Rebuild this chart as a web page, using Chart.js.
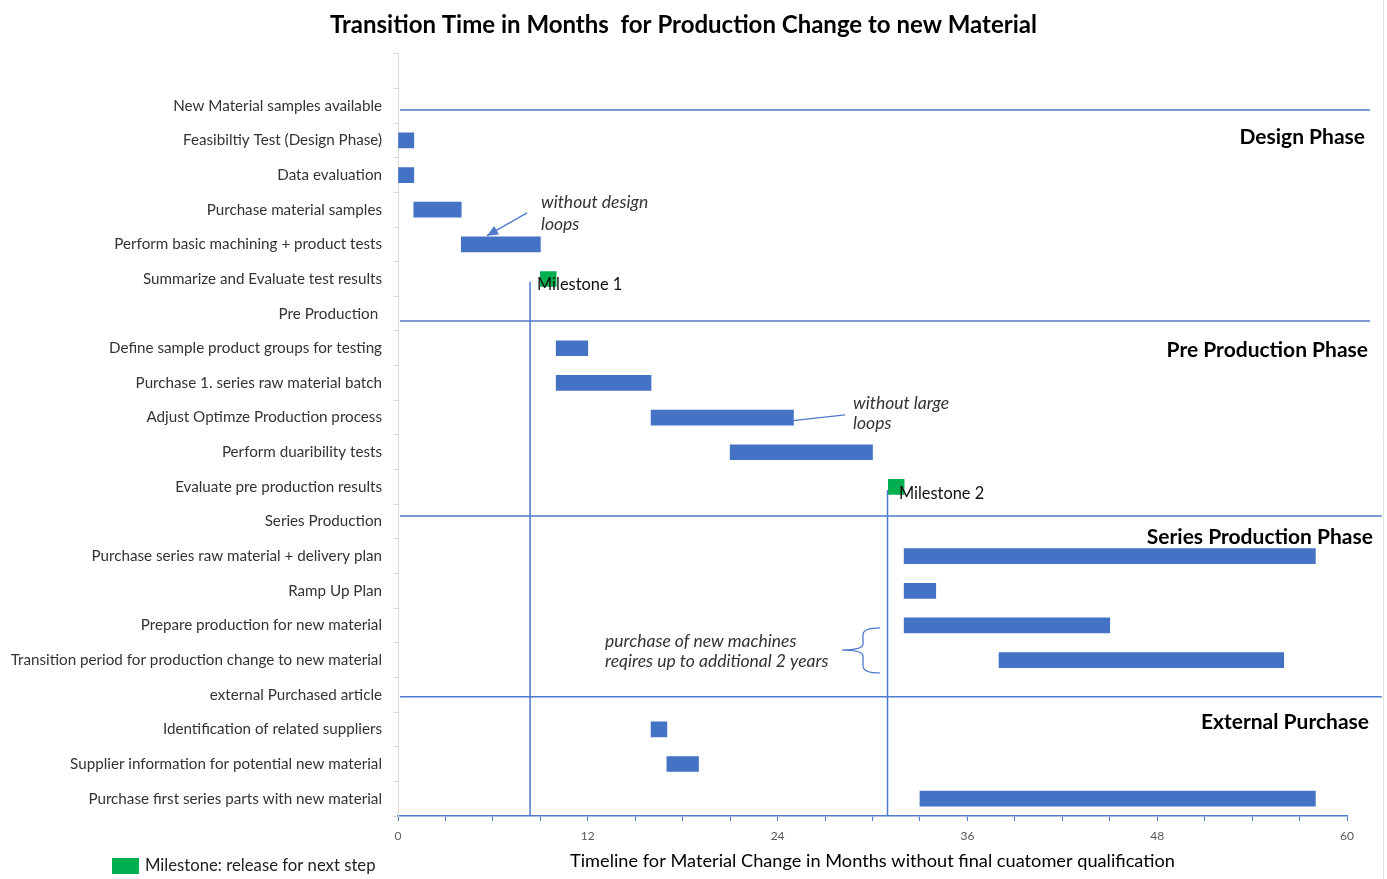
<!DOCTYPE html>
<html><head><meta charset="utf-8">
<script src="https://cdn.jsdelivr.net/npm/chart.js@4.4.1/dist/chart.umd.min.js"></script>
<style>html,body{margin:0;padding:0;background:#fff}</style>
</head><body>
<canvas id="c" width="1387" height="879"></canvas>
<script>
// ---- data ----
const tasks = [
  '',
  'New Material samples available',
  'Feasibiltiy Test (Design Phase)',
  'Data evaluation',
  'Purchase material samples',
  'Perform basic machining + product tests',
  'Summarize and Evaluate test results',
  'Pre Production ',
  'Define sample product groups for testing',
  'Purchase 1. series raw material batch',
  'Adjust Optimze Production process',
  'Perform duaribility tests',
  'Evaluate pre production results',
  'Series Production',
  'Purchase series raw material + delivery plan',
  'Ramp Up Plan',
  'Prepare production for new material',
  'Transition period for production change to new material',
  'external Purchased article',
  'Identification of related suppliers',
  'Supplier information for potential new material',
  'Purchase first series parts with new material'
];
const taskStart = [null, null, 0, 0, 1, 4, null, null, 10, 10, 16, 21, null, null, 32, 32, 32, 38, null, 16, 17, 33];
const taskEnd   = [null, null, 1, 1, 4, 9, null, null, 12, 16, 25, 30, null, null, 58, 34, 45, 56, null, 17, 19, 58];
const milestoneStart = [null, null, null, null, null, null, 9, null, null, null, null, null, 31, null, null, null, null, null, null, null, null, null];
const milestoneEnd   = [null, null, null, null, null, null, 10, null, null, null, null, null, 32, null, null, null, null, null, null, null, null, null];
const xMin = 0, xMax = 60, xStep = 3, xLabelEvery = 12;
const phaseNames = ['Design Phase', 'Pre Production Phase', 'Series Production Phase', 'External Purchase'];
const titleText = 'Transition Time in Months  for Production Change to new Material';
const xTitle = 'Timeline for Material Change in Months without final cuatomer qualification';
const milestoneLabel = 'Milestone: release for next step';

const BLUE = '#4472C4', GREEN = '#00B050', LINE = '#4f79cb';

const taskData = tasks.map((_, i) => taskStart[i] == null ? null : [taskStart[i], taskEnd[i]]);
const msData = tasks.map((_, i) => milestoneStart[i] == null ? null : [milestoneStart[i], milestoneEnd[i]]);

// ---- annotations (month value, category position) ----
const annot = {
  id: 'annot',
  afterLayout(chart) {
    // centre the title a little right of the canvas centre, as in the original
    if (chart.titleBlock) { chart.titleBlock.left += 20; }
  },
  afterDraw(chart) {
    const c = chart.ctx, xs = chart.scales.x, ys = chart.scales.y, ca = chart.chartArea;
    const px = v => xs.getPixelForValue(v), py = r => ys.getPixelForValue(r);
    c.save();
    // separator lines
    c.strokeStyle = LINE; c.lineWidth = 1.5;
    [[1.12, 61.45], [7.21, 61.45], [12.84, 62.2], [18.06, 62.2]].forEach(([r, e]) => {
      c.beginPath(); c.moveTo(px(0.13), py(r)); c.lineTo(px(e), py(r)); c.stroke();
    });
    // milestone vertical lines
    [[8.35, 6.08], [30.95, 12.09]].forEach(([m, r]) => {
      c.beginPath(); c.moveTo(px(m), py(r)); c.lineTo(px(m), ca.bottom); c.stroke();
    });
    // arrow "without design loops"
    c.lineWidth = 1.3;
    const ax1 = px(8.16), ay1 = py(4.09), ax2 = px(5.63), ay2 = py(4.75);
    c.beginPath(); c.moveTo(ax1, ay1); c.lineTo(ax2, ay2); c.stroke();
    const ang = Math.atan2(ay2 - ay1, ax2 - ax1), L = 11, W = 5;
    c.fillStyle = LINE; c.beginPath();
    c.moveTo(ax2, ay2);
    c.lineTo(ax2 - L * Math.cos(ang) + W * Math.sin(ang), ay2 - L * Math.sin(ang) - W * Math.cos(ang));
    c.lineTo(ax2 - L * Math.cos(ang) - W * Math.sin(ang), ay2 - L * Math.sin(ang) + W * Math.cos(ang));
    c.closePath(); c.fill();
    // line "without large loops"
    c.beginPath(); c.moveTo(px(24.97), py(10.09)); c.lineTo(px(28.26), py(9.92)); c.stroke();
    // brace
    const xR = px(30.47), xS = px(29.4), xT = px(28.07), yT = py(16.07), yM = py(16.71), yB = py(17.37);
    c.beginPath();
    c.moveTo(xR, yT); c.quadraticCurveTo(xS, yT, xS, yT + 7);
    c.lineTo(xS, yM - 6); c.quadraticCurveTo(xS, yM, xT, yM);
    c.quadraticCurveTo(xS, yM, xS, yM + 6);
    c.lineTo(xS, yB - 7); c.quadraticCurveTo(xS, yB, xR, yB);
    c.stroke();
    // italic notes
    c.fillStyle = '#333'; c.textBaseline = 'middle'; c.textAlign = 'left';
    c.font = 'italic 17.5px Lato';
    c.fillText('without design', px(9.04), py(3.80));
    c.fillText('loops', px(9.04), py(4.41));
    c.fillText('without large', px(28.77), py(9.58));
    c.fillText('loops', px(28.77), py(10.18));
    c.fillText('purchase of new machines', px(13.09), py(16.45));
    c.fillText('reqires up to additional 2 years', px(13.09), py(17.05));
    // milestone labels
    c.fillStyle = '#111'; c.font = '16.4px Lato';
    c.fillText('Milestone 1', px(8.79), py(6.17));
    c.fillText('Milestone 2', px(31.67), py(12.20));
    // phase labels
    c.font = 'bold 21px Lato'; c.textAlign = 'right'; c.fillStyle = '#000';
    [[61.14, 1.90], [61.33, 8.07], [61.64, 13.44], [61.39, 18.78]].forEach(([m, r], i) => {
      c.fillText(phaseNames[i], px(m), py(r));
    });
    // legend (bottom-left)
    const ds = chart.data.datasets[1];
    c.fillStyle = ds.backgroundColor; c.fillRect(112, 858, 27, 16);
    c.fillStyle = '#222'; c.textAlign = 'left'; c.font = '16.7px Lato';
    c.fillText(ds.label, 145, 866);
    // faint sheet gridline on far right
    c.strokeStyle = '#e3e3e3'; c.lineWidth = 1;
    c.beginPath(); c.moveTo(chart.width - 3.5, 0); c.lineTo(chart.width - 3.5, chart.height); c.stroke();
    c.restore();
  }
};

new Chart(document.getElementById('c'), {
  type: 'bar',
  data: {
    labels: tasks,
    datasets: [
      { label: 'Task duration', data: taskData, backgroundColor: BLUE, barThickness: 15, grouped: false },
      { label: milestoneLabel, data: msData, backgroundColor: GREEN, barThickness: 15, grouped: false }
    ]
  },
  options: {
    indexAxis: 'y',
    responsive: false,
    animation: false,
    layout: { padding: { left: 0, right: 40, top: 0, bottom: 0 } },
    plugins: {
      legend: { display: false },
      tooltip: { enabled: false },
      title: {
        display: true, text: titleText, color: '#000',
        font: { family: 'Lato', size: 24, weight: 'bold' },
        padding: { top: 11, bottom: 14 }
      }
    },
    scales: {
      x: {
        type: 'linear', min: xMin, max: xMax, position: 'bottom',
        border: { color: LINE, width: 1.5 },
        grid: { drawOnChartArea: false, color: LINE, tickLength: 5 },
        ticks: {
          stepSize: xStep, autoSkip: false, maxRotation: 0, padding: 8,
          color: '#595959', font: { family: 'Lato', size: 12 },
          callback: v => (v % xLabelEvery === 0 ? String(v) : '')
        },
        title: { display: true, text: xTitle, color: '#000', font: { family: 'Lato', size: 18.2 }, padding: { top: 4, bottom: 7 } },
        afterFit(s) { s.height = 63; }
      },
      y: {
        type: 'category',
        border: { color: '#d9d9d9' },
        grid: { drawOnChartArea: false, color: '#d9d9d9', tickLength: 5, offset: true },
        ticks: { autoSkip: false, padding: 11, color: '#333', font: { family: 'Lato', size: 15.2 } },
        afterFit(s) { s.width = 398; }
      }
    }
  },
  plugins: [annot]
});
</script>
</body></html>
